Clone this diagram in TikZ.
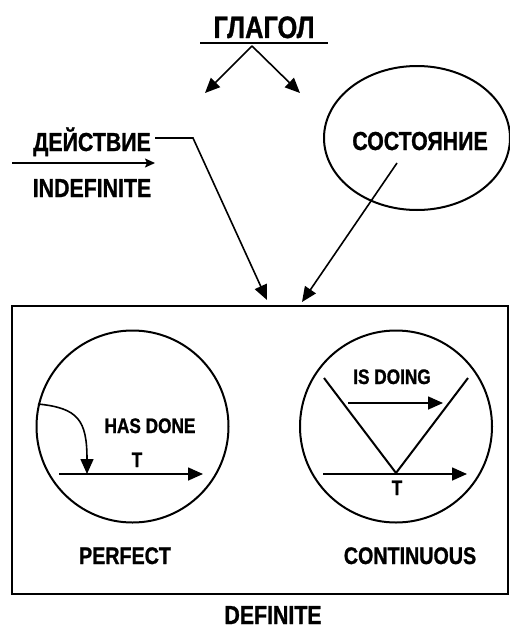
\documentclass[tikz,border=0pt]{standalone}
\usepackage{fontspec}
\setmainfont[FakeStretch=0.82,FakeBold=1]{Liberation Sans}
\usetikzlibrary{arrows.meta,shapes.geometric}
\tikzset{
  lbl/.style={font=\bfseries\fontsize{#1}{#1}\selectfont, inner sep=0pt, anchor=base},
  ln/.style={line width=1.6pt},
  ring/.style={line width=2pt},
  bigtip/.style={-{Triangle[length=15pt,width=13pt]}},
  smalltip/.style={-{Stealth[length=10pt,width=9pt,inset=2pt]}}
}
\begin{document}
\begin{tikzpicture}[x=1pt,y=-1pt]
\useasboundingbox (0,0) rectangle (510,629);

% title
\node[lbl=31] (verb) at (264,38) {ГЛАГОЛ};
\draw[line width=2.5pt] (200,43) -- (328,43);
\coordinate (split) at (252,46);
\coordinate (leftend) at (205,93);
\coordinate (rightend) at (300,93);
\draw[ln,bigtip] (split) -- (leftend);
\draw[ln,bigtip] (split) -- (rightend);

% action branch
\node[lbl=26] (act) at (92,151) {ДЕЙСТВИЕ};
\node[lbl=26] (indef) at (92,197) {INDEFINITE};
\coordinate (arrstart) at (12,163);
\coordinate (arrend) at (155,163);
\draw[ln,smalltip] (arrstart) -- (arrend);
\coordinate (actout) at (155,138);
\coordinate (bend) at (193,138);
\coordinate (in1) at (267,300);
\draw[ln,bigtip] (actout) -- (bend) -- (in1);

% state branch
\node[ring,draw,ellipse,minimum width=186pt,minimum height=144pt] (oval) at (417,138) {};
\node[lbl=26] (state) at (420,150) {СОСТОЯНИЕ};
\coordinate (stout) at (397,163);
\coordinate (in2) at (302,302);
\draw[ln,bigtip] (stout) -- (in2);

% definite box
\draw[line width=1.6pt] (12,306) rectangle (508,594);
\node[lbl=26] (def) at (273,624) {DEFINITE};

% perfect
\draw[ring] (132.5,426.5) circle (96);
\node[lbl=21] (has) at (150,433) {HAS DONE};
\node[lbl=21] (tl) at (137,467) {T};
\coordinate (tlA) at (59,474);
\coordinate (tlB) at (203,474);
\draw[ln,bigtip] (tlA) -- (tlB);
\coordinate (cstart) at (38,404);
\coordinate (cend) at (87,474);
\draw[ln,bigtip] (cstart) .. controls (78,408) and (87,420) .. (cend);
\node[lbl=24] (perf) at (125,564) {PERFECT};

% continuous
\draw[ring] (396,426.5) circle (96);
\coordinate (vl) at (324,378);
\coordinate (vb) at (396,473);
\coordinate (vr) at (468,378);
\draw[ring] (vl) -- (vb) -- (vr);
\node[lbl=21] (doing) at (392,384) {IS DOING};
\coordinate (dA) at (348,403);
\coordinate (dB) at (443,403);
\draw[ln,bigtip] (dA) -- (dB);
\coordinate (trA) at (323,474);
\coordinate (trB) at (467,474);
\draw[ln,bigtip] (trA) -- (trB);
\node[lbl=21] (tr) at (397,495) {T};
\node[lbl=24] (cont) at (410,564) {CONTINUOUS};
\end{tikzpicture}
\end{document}
